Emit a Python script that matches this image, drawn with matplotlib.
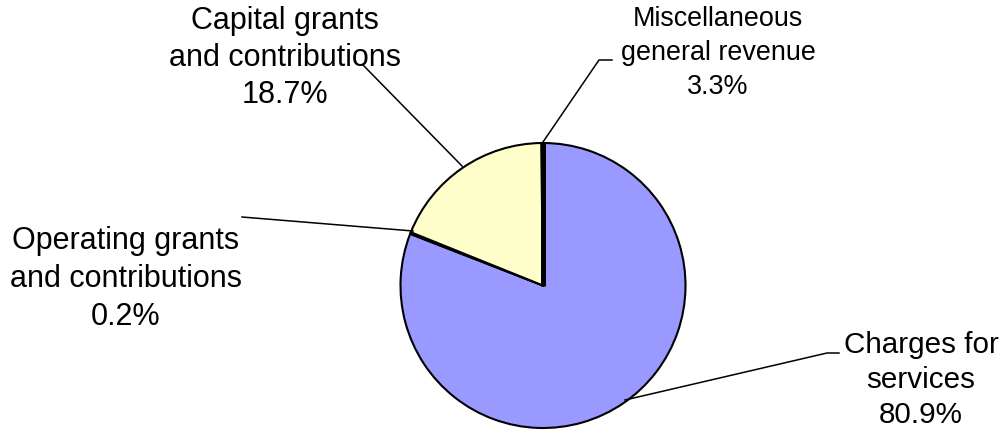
import matplotlib.pyplot as plt

plt.rcParams['font.family'] = ['Liberation Sans', 'DejaVu Sans']

# revenue shares, percent
categories = ["Charges for\nservices",
              "Operating grants\nand contributions",
              "Capital grants\nand contributions",
              "Miscellaneous\ngeneral revenue"]
shares = [80.9, 0.2, 18.7, 3.3]
colors = ["#9999FF", "#000000", "#FFFFCC"]

W, H = 1005, 430


def px(x, y):
    # image pixel -> data coords (y up)
    return x, H - y


fig = plt.figure(figsize=(W / 100, H / 100), dpi=100)
ax = fig.add_axes([0, 0, 1, 1])
ax.set_xlim(0, W)
ax.set_ylim(0, H)
ax.set_aspect('equal')
ax.axis('off')

center = px(543, 285.5)
radius = 142.5

# the miscellaneous slice is too thin to show, only its boundary line is drawn
wedges, _ = ax.pie([s / 100 for s in shares[:3]], colors=colors, startangle=90,
                   counterclock=False, normalize=False, center=center, radius=radius,
                   wedgeprops=dict(edgecolor='black', linewidth=1.5))
ax.set_xlim(0, W)
ax.set_ylim(0, H)
ax.plot([center[0], center[0]], [center[1], center[1] + radius], color='black',
        linewidth=3.6, solid_capstyle='butt')

# leader lines
lw = 1.1
x0, y0 = px(363, 65); x1, y1 = px(462, 166)
ax.plot([x0, x1], [y0, y1], color='black', lw=lw)
xs, ys = zip(px(543, 142), px(599, 60), px(612, 60))
ax.plot(xs, ys, color='black', lw=lw)
xs, ys = zip(px(242, 217), px(413, 231))
ax.plot(xs, ys, color='black', lw=lw)
xs, ys = zip(px(625, 400), px(827, 353), px(839, 353))
ax.plot(xs, ys, color='black', lw=lw)

# labels
label_pos = [px(921, 380), px(126, 279), px(285, 58), px(718, 53)]
label_size = [21.3, 22, 22, 19.4]
label_spacing = [1.31, 1.34, 1.32, 1.38]
for name, val, pos, fs, ls in zip(categories, shares, label_pos, label_size, label_spacing):
    ax.text(pos[0], pos[1], f"{name}\n{val:.1f}%", ha='center', va='center',
            multialignment='center', fontsize=fs, linespacing=ls, color='black')

fig.savefig('out.png', dpi=100)
